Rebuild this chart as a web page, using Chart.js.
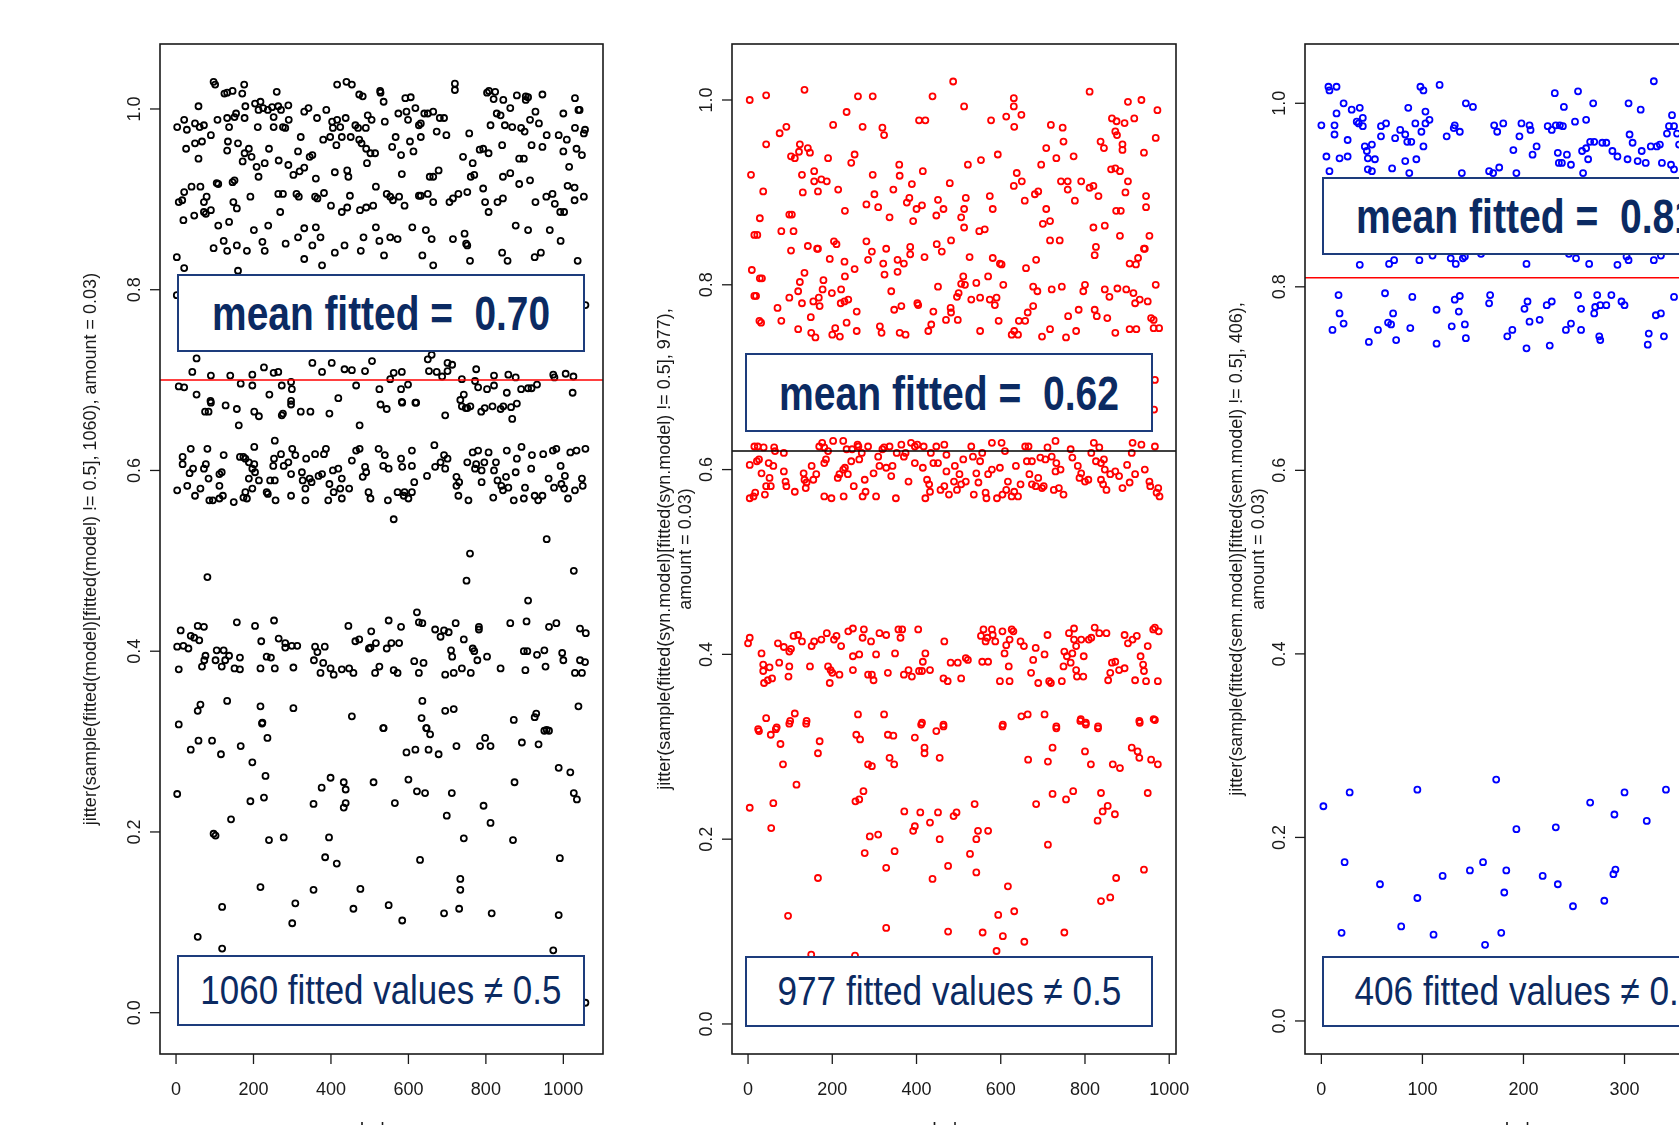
<!DOCTYPE html>
<html>
<head>
<meta charset="utf-8">
<script src="https://cdn.jsdelivr.net/npm/chart.js@4.4.1/dist/chart.umd.min.js"></script>
<style>
  html, body { margin: 0; padding: 0; overflow: hidden; background: #fff; }
  body { position: relative; width: 1679px; height: 1125px; }
  canvas { position: absolute; top: 0; }
  .note {
    position: absolute; box-sizing: border-box; background: #fff;
    border: 2px solid #1d3c7c; display: flex; align-items: center; justify-content: center;
    color: #0b2a62; font-family: "Liberation Sans Narrow", "Liberation Sans", Arial, sans-serif;
    white-space: pre; z-index: 5;
  }
  .note span { display: inline-block; transform-origin: 50% 50%; }
  .mean { font-size: 49px; font-weight: bold; }
  .count { font-size: 41px; }
</style>
</head>
<body>
<canvas id="modelChart"></canvas>
<canvas id="synChart"></canvas>
<canvas id="semChart"></canvas>

<div class="note mean" style="left:177px;top:274px;width:408px;height:78px"><span data-w="338">mean fitted =  0.70</span></div>
<div class="note count" style="left:177px;top:955px;width:408px;height:71px"><span data-w="361">1060 fitted values ≠ 0.5</span></div>
<div class="note mean" style="left:745px;top:353px;width:408px;height:79px"><span data-w="340">mean fitted =  0.62</span></div>
<div class="note count" style="left:745px;top:956px;width:408px;height:71px"><span data-w="344">977 fitted values ≠ 0.5</span></div>
<div class="note mean" style="left:1322px;top:177px;width:408px;height:78px"><span data-w="340">mean fitted =  0.81</span></div>
<div class="note count" style="left:1322px;top:956px;width:408px;height:71px"><span data-w="344">406 fitted values ≠ 0.5</span></div>

<script>
// jittered fitted values, [index, value]
const modelPts = [
  [97,1.03],[101,1.027],[125,1.017],[132,1.018],[146,1.02],[176,1.027],[171,1.017],[260,1.019],[416,1.027],[440,1.03],
  [454,1.027],[473,1.016],[482,1.014],[527,1.02],[528,1.018],[536,1.008],[592,1.012],[606,1.013],[720,1.028],[720,1.021],
  [803,1.018],[808,1.02],[824,1.019],[820,1.011],[845,1.01],[880,1.015],[903,1.014],[903,1.01],[909,1.013],[946,1.016],
  [1030,1.012],[1042,0.999],[58,1.003],[3,0.98],[21,0.988],[28,0.977],[49,0.984],[61,0.98],[72,0.982],[107,0.988],
  [132,0.99],[137,0.98],[151,0.991],[155,0.995],[177,0.99],[179,1.003],[204,1.006],[218,1.008],[213,0.999],[225,1.001],
  [237,0.999],[248,1.002],[252,0.991],[264,1.003],[271,0.999],[290,1.004],[291,0.988],[211,0.98],[252,0.98],[276,0.98],
  [282,0.979],[331,0.997],[342,1.001],[364,0.99],[388,0.999],[403,0.986],[416,0.988],[438,0.99],[424,0.98],[405,0.979],
  [463,0.982],[470,0.979],[490,0.979],[495,0.993],[505,0.988],[539,0.986],[574,0.995],[595,0.997],[599,0.988],[618,1.001],
  [627,0.982],[641,0.995],[650,0.995],[664,0.997],[681,0.99],[692,0.99],[632,0.984],[673,0.975],[698,0.971],[812,0.982],
  [828,0.995],[838,0.993],[849,0.982],[863,1.001],[868,0.98],[891,0.979],[900,0.975],[914,0.988],[928,0.997],[937,0.984],
  [1000,0.995],[1039,0.999],[1030,0.979],[1056,0.977],[1053,0.973],
  [26,0.956],[49,0.962],[67,0.964],[90,0.971],[58,0.945],[132,0.954],[134,0.964],[160,0.962],[188,0.956],[177,0.951],
  [172,0.942],[195,0.947],[208,0.936],[213,0.925],[229,0.94],[240,0.956],[265,0.943],[290,0.938],[303,0.927],[315,0.953],
  [319,0.931],[331,0.935],[345,0.947],[352,0.949],[322,0.969],[380,0.966],[398,0.969],[414,0.96],[428,0.969],[451,0.969],
  [473,0.966],[479,0.962],[491,0.956],[502,0.951],[514,0.951],[493,0.94],[558,0.958],[567,0.969],[581,0.949],[604,0.964],
  [613,0.953],[632,0.969],[741,0.947],[757,0.973],[766,0.94],[784,0.955],[793,0.956],[807,0.951],[842,0.96],[886,0.945],
  [898,0.945],[918,0.96],[946,0.958],[957,0.971],[988,0.971],[1000,0.953],[1009,0.966],[1034,0.956],[1048,0.949],[1015,0.936],
  [40,0.914],[63,0.914],[109,0.917],[105,0.918],[151,0.921],[146,0.919],[79,0.903],[72,0.897],[90,0.888],[7,0.897],
  [16,0.899],[21,0.908],[148,0.897],[157,0.89],[192,0.903],[264,0.906],[276,0.906],[269,0.886],[311,0.906],[317,0.903],
  [359,0.903],[365,0.901],[382,0.907],[361,0.923],[410,0.93],[442,0.932],[445,0.925],[400,0.893],[428,0.886],[442,0.891],
  [449,0.904],[475,0.888],[491,0.891],[509,0.893],[516,0.914],[544,0.906],[553,0.903],[560,0.899],[576,0.903],[590,0.893],
  [583,0.928],[627,0.904],[632,0.904],[650,0.906],[664,0.897],[678,0.932],[664,0.925],[655,0.925],[706,0.897],[715,0.901],
  [729,0.906],[752,0.908],[761,0.925],[770,0.927],[793,0.912],[798,0.897],[807,0.886],[830,0.897],[844,0.901],[844,0.925],
  [863,0.929],[886,0.917],[914,0.921],[928,0.897],[956,0.903],[972,0.906],[978,0.895],[992,0.886],[1011,0.915],[1029,0.913],
  [1002,0.886],[1053,0.903],[1029,0.899],
  [19,0.877],[47,0.882],[72,0.886],[77,0.884],[109,0.871],[137,0.875],[123,0.854],[97,0.846],[132,0.843],[157,0.849],
  [183,0.843],[201,0.866],[223,0.853],[238,0.871],[229,0.843],[283,0.851],[315,0.858],[331,0.868],[361,0.869],[373,0.858],
  [352,0.849],[331,0.834],[377,0.827],[410,0.841],[435,0.849],[477,0.843],[484,0.858],[516,0.869],[525,0.854],[553,0.858],
  [572,0.856],[537,0.838],[610,0.869],[645,0.866],[660,0.856],[636,0.838],[664,0.827],[715,0.856],[745,0.862],[752,0.849],
  [759,0.832],[749,0.851],[842,0.841],[856,0.832],[877,0.871],[909,0.866],[926,0.836],[942,0.841],[965,0.866],[993,0.854],
  [1037,0.832],[2,0.836],[21,0.824],[2,0.794],[160,0.821],[1057,0.783],
  [53,0.724],[42,0.709],[7,0.693],[21,0.692],[53,0.684],[90,0.705],[90,0.675],[140,0.705],[167,0.696],[197,0.706],
  [197,0.694],[227,0.714],[241,0.684],[252,0.708],[264,0.709],[273,0.694],[297,0.698],[299,0.69],[297,0.677],[352,0.719],
  [377,0.709],[402,0.719],[435,0.712],[454,0.711],[465,0.694],[488,0.71],[506,0.721],[525,0.69],[553,0.701],[562,0.708],
  [583,0.709],[583,0.676],[618,0.675],[581,0.69],[599,0.695],[419,0.68],[650,0.723],[660,0.728],[653,0.71],[673,0.709],
  [701,0.719],[713,0.717],[687,0.704],[701,0.71],[738,0.701],[743,0.684],[775,0.712],[772,0.699],[780,0.692],[803,0.69],
  [821,0.705],[821,0.694],[858,0.706],[877,0.703],[891,0.69],[909,0.691],[918,0.691],[932,0.695],[974,0.706],[977,0.703],
  [1006,0.707],[1026,0.704],[1024,0.686],[854,0.686],[845,0.671],[752,0.669],[738,0.671],
  [89,0.677],[75,0.665],[84,0.665],[128,0.672],[157,0.668],[162,0.65],[202,0.665],[214,0.66],[276,0.663],[273,0.661],
  [297,0.673],[474,0.65],[528,0.673],[544,0.668],[584,0.675],[620,0.675],[695,0.661],[734,0.678],[748,0.669],[760,0.671],
  [788,0.665],[797,0.669],[817,0.671],[838,0.668],[865,0.67],[868,0.657],[880,0.674],[322,0.665],[347,0.665],[396,0.663],
  [3,0.578],[17,0.615],[17,0.607],[29,0.583],[38,0.624],[35,0.597],[44,0.602],[49,0.572],[63,0.58],[72,0.602],
  [77,0.607],[81,0.624],[84,0.591],[86,0.567],[95,0.567],[112,0.596],[118,0.598],[112,0.583],[121,0.572],[123,0.617],
  [112,0.569],[149,0.565],[165,0.615],[174,0.615],[179,0.613],[188,0.609],[202,0.607],[202,0.626],[197,0.602],[204,0.598],
  [188,0.591],[197,0.58],[179,0.576],[174,0.57],[183,0.569],[214,0.589],[234,0.576],[237,0.574],[243,0.589],[255,0.589],
  [255,0.633],[257,0.567],[251,0.605],[253,0.613],[271,0.618],[278,0.605],[290,0.609],[297,0.572],[300,0.624],[308,0.617],
  [297,0.596],[325,0.598],[327,0.589],[336,0.613],[334,0.58],[334,0.567],[345,0.591],[350,0.587],[359,0.618],[368,0.594],
  [377,0.596],[382,0.618],[387,0.624],[393,0.567],[396,0.585],[405,0.6],[419,0.602],[407,0.576],[424,0.58],[428,0.569],
  [428,0.591],[447,0.58],[454,0.611],[465,0.622],[474,0.624],[482,0.593],[488,0.604],[491,0.598],[497,0.576],[502,0.569],
  [523,0.624],[535,0.605],[539,0.617],[547,0.567],[549,0.602],[572,0.576],[581,0.613],[584,0.604],[588,0.572],[590,0.576],
  [600,0.569],[609,0.576],[609,0.605],[609,0.622],[615,0.587],[648,0.594],[667,0.628],[669,0.604],[683,0.609],[692,0.617],
  [701,0.613],[695,0.602],[724,0.593],[724,0.583],[731,0.587],[729,0.572],[755,0.567],[752,0.609],[766,0.62],[772,0.602],
  [780,0.622],[775,0.607],[789,0.587],[789,0.6],[796,0.609],[807,0.62],[819,0.57],[821,0.6],[826,0.609],[830,0.589],
  [840,0.583],[844,0.578],[854,0.622],[852,0.593],[858,0.581],[872,0.567],[877,0.598],[880,0.613],[892,0.626],[898,0.569],
  [901,0.581],[919,0.617],[917,0.602],[926,0.572],[935,0.567],[946,0.572],[948,0.618],[962,0.591],[973,0.622],[976,0.581],
  [982,0.624],[993,0.605],[995,0.585],[1002,0.58],[1004,0.594],[1012,0.569],[1018,0.62],[1030,0.578],[1034,0.622],[1048,0.591],
  [1050,0.583],[1057,0.624],
  [562,0.546],[957,0.524],[759,0.508],[750,0.478],[1027,0.489],[81,0.482],[909,0.456],
  [7,0.38],[12,0.423],[3,0.405],[19,0.406],[32,0.403],[38,0.417],[47,0.415],[56,0.428],[60,0.412],[72,0.427],
  [67,0.383],[76,0.395],[73,0.39],[105,0.401],[102,0.39],[118,0.383],[123,0.401],[127,0.39],[137,0.395],[151,0.381],
  [165,0.38],[165,0.393],[157,0.432],[204,0.428],[220,0.411],[218,0.381],[234,0.394],[245,0.393],[255,0.381],[253,0.434],
  [265,0.414],[282,0.409],[282,0.404],[299,0.406],[303,0.382],[313,0.406],[356,0.39],[359,0.405],[365,0.399],[373,0.376],
  [380,0.387],[384,0.405],[399,0.381],[407,0.374],[428,0.38],[447,0.381],[445,0.428],[458,0.376],[463,0.411],[473,0.413],
  [498,0.403],[502,0.404],[504,0.422],[514,0.376],[516,0.409],[525,0.383],[544,0.403],[549,0.434],[556,0.409],[562,0.379],
  [572,0.376],[576,0.409],[581,0.427],[615,0.389],[622,0.443],[627,0.432],[636,0.431],[639,0.387],[627,0.376],[669,0.424],
  [683,0.416],[692,0.423],[704,0.421],[695,0.374],[710,0.401],[713,0.394],[717,0.376],[722,0.431],[738,0.381],[743,0.413],
  [761,0.376],[766,0.403],[770,0.4],[778,0.39],[782,0.427],[782,0.424],[803,0.394],[838,0.381],[863,0.431],[898,0.4],
  [907,0.4],[902,0.379],[905,0.433],[932,0.396],[951,0.401],[954,0.383],[963,0.427],[982,0.431],[997,0.398],[1000,0.39],
  [1030,0.376],[1048,0.376],[1043,0.39],[1056,0.388],[1043,0.425],[1058,0.42],
  [7,0.319],[56,0.334],[63,0.341],[132,0.345],[218,0.339],[223,0.321],[303,0.337],[454,0.328],[535,0.315],[636,0.345],
  [634,0.326],[646,0.315],[695,0.334],[717,0.336],[872,0.324],[930,0.331],[926,0.327],[957,0.313],[1039,0.339],
  [3,0.242],[38,0.291],[58,0.301],[93,0.301],[116,0.286],[167,0.295],[197,0.277],[222,0.32],[236,0.304],[231,0.262],
  [227,0.238],[192,0.234],[142,0.214],[97,0.198],[102,0.196],[240,0.191],[278,0.194],[218,0.139],[119,0.117],[56,0.084],
  [119,0.071],[300,0.099],[308,0.121],[355,0.231],[355,0.136],[376,0.249],[399,0.26],[395,0.194],[385,0.172],[415,0.165],
  [433,0.255],[438,0.247],[438,0.232],[433,0.227],[458,0.115],[476,0.137],[510,0.255],[536,0.315],[549,0.119],[565,0.232],
  [584,0.102],[595,0.288],[600,0.258],[618,0.291],[622,0.245],[630,0.169],[643,0.243],[647,0.315],[656,0.308],[652,0.291],
  [678,0.286],[692,0.11],[699,0.218],[712,0.243],[724,0.295],[731,0.115],[734,0.148],[734,0.136],[743,0.193],[785,0.295],
  [798,0.304],[812,0.295],[794,0.229],[812,0.21],[815,0.11],[870,0.191],[874,0.255],[893,0.299],[936,0.297],[951,0.312],
  [963,0.312],[988,0.271],[1018,0.266],[1027,0.243],[1035,0.236],[991,0.171],[988,0.108],[974,0.069],[1057,0.011]
];

const synPts = [
  [4,1.0],[43,1.005],[134,1.011],[261,1.004],[296,1.004],[438,1.004],[487,1.02],[513,0.993],[631,1.002],[631,0.993],
  [811,1.009],[902,0.998],[934,1.0],[972,0.989],[234,0.987],[202,0.973],[272,0.971],[319,0.97],[323,0.962],[406,0.978],
  [421,0.978],[577,0.978],[613,0.982],[649,0.984],[632,0.971],[719,0.973],[747,0.97],[864,0.98],[875,0.977],[894,0.975],
  [917,0.98],[872,0.966],[876,0.962],[968,0.959],[75,0.964],[91,0.971],[43,0.952],[7,0.919],[36,0.901],[28,0.872],
  [15,0.854],[22,0.854],[9,0.816],[33,0.807],[15,0.788],[19,0.788],[27,0.761],[31,0.759],[79,0.761],
  [102,0.939],[111,0.937],[123,0.952],[121,0.944],[142,0.948],[147,0.943],[128,0.919],[130,0.9],[157,0.923],[157,0.912],
  [166,0.901],[174,0.914],[187,0.912],[190,0.937],[214,0.903],[230,0.88],[245,0.932],[253,0.941],[296,0.919],[300,0.898],
  [281,0.887],[309,0.884],[336,0.873],[345,0.903],[359,0.93],[360,0.918],[389,0.909],[415,0.923],[377,0.889],[383,0.894],
  [400,0.882],[413,0.886],[392,0.869],[451,0.892],[447,0.875],[464,0.882],[479,0.91],[517,0.894],[513,0.882],[506,0.873],
  [513,0.862],[522,0.93],[553,0.935],[593,0.941],[574,0.896],[581,0.882],[549,0.858],[562,0.86],
  [631,0.907],[638,0.921],[650,0.912],[657,0.891],[681,0.898],[689,0.901],[696,0.93],[708,0.948],[708,0.882],[717,0.869],
  [700,0.866],[732,0.937],[743,0.912],[759,0.912],[759,0.903],[749,0.955],[773,0.939],[776,0.891],[791,0.912],[811,0.905],
  [820,0.907],[832,0.896],[837,0.955],[845,0.948],[820,0.862],[847,0.864],[862,0.925],[872,0.926],[883,0.923],[902,0.912],
  [896,0.9],[874,0.88],[885,0.88],[883,0.853],[940,0.943],[945,0.896],[945,0.884],[953,0.853],[940,0.839],[889,0.952],
  [889,0.946],
  [79,0.858],[102,0.837],[108,0.858],[98,0.876],[104,0.876],[142,0.842],[164,0.839],[166,0.839],[194,0.828],[204,0.847],
  [210,0.844],[229,0.825],[253,0.817],[281,0.847],[294,0.836],[285,0.827],[328,0.839],[321,0.823],[324,0.811],[355,0.827],
  [370,0.823],[355,0.814],[385,0.841],[385,0.833],[419,0.83],[448,0.844],[460,0.836],[482,0.848],[526,0.83],[581,0.829],
  [598,0.823],[602,0.822],[660,0.818],[684,0.827],[717,0.848],[740,0.848],[823,0.832],[826,0.841],[906,0.823],[921,0.822],
  [926,0.829],[942,0.839],
  [28,0.807],[70,0.775],[98,0.786],[119,0.793],[123,0.803],[128,0.78],[134,0.813],[149,0.765],[155,0.782],[168,0.786],
  [170,0.777],[177,0.795],[179,0.805],[199,0.791],[221,0.795],[220,0.78],[229,0.782],[238,0.784],[230,0.809],[258,0.771],
  [234,0.759],[119,0.752],[150,0.748],[160,0.743],[200,0.746],[207,0.753],[218,0.744],[258,0.75],[313,0.755],[317,0.748],
  [340,0.793],[347,0.773],[364,0.777],[360,0.748],[374,0.746],[402,0.78],[404,0.778],[428,0.75],[435,0.757],[440,0.771],
  [451,0.798],[470,0.762],[481,0.775],[482,0.77],[498,0.762],[496,0.787],[500,0.791],[506,0.801],[511,0.809],[515,0.8],
  [530,0.784],[542,0.802],[551,0.786],[551,0.75],[570,0.809],[574,0.784],[586,0.778],[590,0.786],[595,0.761],[606,0.8],
  [626,0.746],[632,0.75],[641,0.746],[643,0.761],[658,0.761],[664,0.77],[677,0.777],[677,0.798],[687,0.793],[698,0.744],
  [717,0.752],[721,0.795],[745,0.798],[755,0.743],[760,0.766],[779,0.75],[785,0.773],[796,0.793],[800,0.8],[823,0.773],
  [828,0.766],[847,0.795],[858,0.787],[853,0.764],[872,0.748],[877,0.796],[898,0.795],[906,0.752],[915,0.791],[919,0.78],
  [922,0.752],[930,0.784],[949,0.782],[957,0.764],[963,0.762],[963,0.753],[976,0.753],[968,0.8],[966,0.697],[964,0.665],
  [4,0.605],[4,0.569],[13,0.571],[17,0.575],[15,0.625],[23,0.625],[21,0.609],[26,0.611],[32,0.596],[37,0.624],
  [40,0.573],[43,0.582],[49,0.607],[51,0.591],[54,0.582],[60,0.604],[62,0.624],[64,0.62],[85,0.618],[85,0.598],
  [89,0.587],[91,0.582],[111,0.576],[132,0.596],[134,0.589],[139,0.586],[137,0.58],[151,0.604],[155,0.589],[162,0.595],
  [169,0.625],[176,0.629],[181,0.624],[181,0.607],[185,0.611],[190,0.62],[181,0.571],[198,0.569],[202,0.631],[213,0.591],
  [217,0.595],[226,0.6],[230,0.602],[237,0.595],[227,0.571],[226,0.631],[234,0.622],[245,0.609],[247,0.622],[251,0.582],
  [260,0.627],[262,0.625],[264,0.611],[270,0.618],[277,0.589],[279,0.576],[272,0.571],[285,0.625],[298,0.596],[304,0.571],
  [309,0.614],[312,0.604],[319,0.622],[323,0.624],[328,0.602],[336,0.625],[343,0.604],[340,0.593],[353,0.618],[351,0.569],
  [364,0.627],[370,0.614],[374,0.618],[381,0.587],[387,0.629],[396,0.625],[402,0.627],[396,0.607],[417,0.625],[415,0.602],
  [421,0.569],[425,0.589],[430,0.584],[432,0.576],[434,0.618],[440,0.607],[447,0.625],[451,0.607],[457,0.578],[466,0.627],
  [471,0.598],[471,0.616],[466,0.582],[477,0.573],[489,0.587],[491,0.604],[496,0.578],[502,0.595],[506,0.584],[511,0.611],
  [517,0.587],[530,0.625],[534,0.614],[536,0.573],[542,0.596],[547,0.586],[551,0.609],[556,0.618],[564,0.575],[566,0.569],
  [570,0.595],[579,0.629],[579,0.6],[591,0.569],[598,0.602],[602,0.629],[604,0.573],[610,0.62],[613,0.578],[617,0.587],
  [626,0.571],[632,0.576],[636,0.604],[641,0.571],[647,0.584],[658,0.625],[662,0.609],[666,0.625],[668,0.595],[674,0.609],
  [674,0.584],[683,0.582],[689,0.591],[694,0.613],[698,0.58],[702,0.582],[706,0.611],[711,0.624],[721,0.614],[726,0.578],
  [730,0.631],[732,0.607],[730,0.598],[738,0.58],[742,0.6],[749,0.573],[766,0.622],[770,0.613],[783,0.604],[787,0.591],
  [791,0.596],[800,0.587],[808,0.589],[815,0.618],[821,0.629],[826,0.609],[834,0.624],[838,0.607],[845,0.611],[838,0.589],
  [851,0.578],[843,0.584],[847,0.6],[860,0.595],[872,0.598],[881,0.593],[889,0.58],[900,0.605],[906,0.586],[911,0.618],
  [913,0.629],[919,0.595],[934,0.627],[942,0.6],[953,0.587],[955,0.582],[966,0.625],[970,0.575],[974,0.58],[977,0.571],
  [0,0.412],[4,0.418],[32,0.401],[36,0.389],[36,0.382],[38,0.369],[47,0.372],[57,0.374],[51,0.386],[71,0.412],
  [74,0.391],[85,0.408],[98,0.403],[98,0.387],[96,0.376],[102,0.406],[108,0.42],[119,0.421],[128,0.414],[147,0.387],
  [151,0.409],[157,0.414],[174,0.416],[187,0.423],[190,0.387],[194,0.369],[196,0.383],[200,0.38],[204,0.416],[210,0.42],
  [217,0.378],[221,0.409],[238,0.425],[249,0.428],[249,0.398],[249,0.383],[264,0.4],[275,0.427],[272,0.418],[285,0.378],
  [294,0.378],[298,0.372],[292,0.414],[304,0.4],[312,0.423],[328,0.421],[332,0.38],[349,0.401],[357,0.427],[362,0.418],
  [366,0.427],[370,0.378],[381,0.383],[389,0.376],[404,0.427],[406,0.382],[413,0.382],[415,0.392],[421,0.401],[432,0.383],
  [466,0.414],[464,0.374],[474,0.371],[481,0.391],[498,0.391],[506,0.374],[517,0.396],[522,0.394],[556,0.392],[570,0.392],
  [553,0.42],[559,0.427],[564,0.414],[568,0.418],[579,0.427],[581,0.421],[587,0.414],[598,0.371],[604,0.425],[609,0.401],
  [613,0.41],[619,0.387],[621,0.416],[621,0.371],[626,0.427],[630,0.425],[647,0.414],[655,0.409],[672,0.38],[677,0.394],
  [683,0.407],[689,0.369],[704,0.4],[711,0.421],[715,0.371],[719,0.369],[745,0.371],[749,0.387],[751,0.403],[757,0.398],
  [762,0.423],[766,0.391],[770,0.401],[774,0.428],[774,0.416],[779,0.383],[781,0.376],[779,0.409],[791,0.416],[796,0.376],
  [797,0.398],[809,0.416],[815,0.418],[823,0.429],[834,0.423],[851,0.423],[855,0.372],[860,0.38],[864,0.391],[872,0.392],
  [881,0.383],[894,0.385],[894,0.421],[902,0.412],[913,0.416],[923,0.42],[919,0.372],[932,0.398],[938,0.389],[940,0.382],
  [945,0.371],[949,0.409],[962,0.427],[966,0.429],[975,0.425],[973,0.371],
  [43,0.331],[66,0.319],[98,0.325],[111,0.336],[138,0.325],[261,0.335],[323,0.335],[411,0.324],[464,0.322],[604,0.322],
  [649,0.333],[664,0.335],[704,0.335],[732,0.32],[789,0.328],[802,0.324],[831,0.32],[930,0.326],[966,0.329],[26,0.317],
  [24,0.319],[54,0.313],[68,0.321],[100,0.328],[139,0.328],[77,0.303],[83,0.281],[115,0.259],[4,0.234],[60,0.239],
  [55,0.212],[166,0.293],[170,0.306],[166,0.158],[95,0.117],[150,0.075],[257,0.313],[266,0.308],[255,0.241],[264,0.243],
  [274,0.252],[285,0.281],[294,0.279],[289,0.203],[309,0.205],[277,0.185],[254,0.074],[328,0.169],[328,0.104],[332,0.313],
  [345,0.312],[336,0.288],[347,0.281],[348,0.187],[371,0.23],[396,0.31],[392,0.209],[396,0.214],[409,0.229],[413,0.326],
  [419,0.299],[419,0.293],[432,0.218],[438,0.157],[447,0.317],[455,0.288],[451,0.229],[455,0.2],[464,0.324],[475,0.171],
  [475,0.1],[488,0.225],[495,0.229],[527,0.184],[538,0.238],[542,0.2],[546,0.209],[542,0.164],[557,0.099],[570,0.209],
  [590,0.079],[594,0.118],[605,0.324],[605,0.095],[617,0.149],[632,0.122],[656,0.089],[665,0.286],[684,0.238],[712,0.284],
  [712,0.194],[723,0.299],[723,0.249],[732,0.322],[751,0.099],[755,0.243],[772,0.252],[790,0.33],[800,0.295],[802,0.326],
  [814,0.281],[831,0.322],[838,0.25],[842,0.23],[830,0.22],[854,0.236],[838,0.133],[860,0.137],[866,0.281],[871,0.227],
  [874,0.158],[883,0.277],[911,0.299],[925,0.295],[929,0.288],[929,0.328],[940,0.167],[949,0.25],[957,0.286],[963,0.33],
  [973,0.281]
];

const semPts = [
  [7,1.018],[8,1.014],[15,1.018],[0,0.976],[5,0.942],[8,0.926],[15,0.989],[13,0.976],[13,0.966],[22,1.0],
  [18,0.94],[26,0.96],[26,0.942],[30,0.993],[35,0.98],[37,0.978],[38,0.995],[41,0.984],[41,0.975],[43,0.953],
  [45,0.948],[46,0.94],[46,0.928],[50,0.926],[50,0.955],[53,0.939],[59,0.975],[59,0.964],[64,0.978],[70,0.929],
  [73,0.962],[78,0.971],[83,0.966],[83,0.937],[85,0.958],[86,0.995],[89,0.958],[87,0.924],[93,0.978],[94,0.939],
  [98,1.018],[101,1.014],[99,0.969],[101,0.953],[103,0.991],[107,0.982],[103,0.978],[117,1.02],[124,0.964],[131,0.973],
  [132,0.976],[137,0.969],[139,0.924],[143,1.0],[150,0.996],[166,0.926],[170,0.924],[171,0.976],[174,0.969],[176,0.93],
  [180,0.978],[190,0.949],[193,0.924],[196,0.964],[198,0.978],[206,0.976],[207,0.971],[209,0.944],[213,0.953],[224,0.975],
  [228,0.971],[231,1.011],[232,0.976],[234,0.946],[235,0.935],[236,0.976],[238,0.935],[239,0.975],[240,0.996],[243,0.944],
  [247,0.933],[251,0.98],[254,1.013],[258,0.948],[259,0.924],[262,0.951],[262,0.982],[264,0.939],[266,0.958],[269,1.0],
  [270,0.958],[278,0.957],[282,0.957],[288,0.948],[293,0.942],[303,0.939],[304,1.0],[305,0.966],[308,0.957],[313,0.937],
  [316,0.993],[317,0.948],[321,0.935],[326,0.953],[329,1.024],[332,0.953],[335,0.955],[337,0.935],[342,0.967],[344,0.975],
  [347,0.987],[346,0.933],[349,0.975],[352,0.967],[349,0.928],[354,0.955],
  [38,0.824],[67,0.825],[72,0.829],[97,0.829],[110,0.834],[128,0.831],[133,0.825],[140,0.831],[142,0.833],[158,0.836],
  [203,0.825],[245,0.836],[252,0.831],[265,0.825],[293,0.824],[302,0.833],[304,0.829],[329,0.829],[336,0.834],
  [17,0.791],[18,0.771],[22,0.76],[11,0.753],[47,0.74],[56,0.753],[63,0.793],[66,0.761],[69,0.759],[71,0.771],
  [74,0.742],[88,0.755],[90,0.789],[114,0.775],[114,0.738],[129,0.757],[132,0.786],[137,0.79],[136,0.773],[142,0.759],
  [143,0.744],[166,0.782],[167,0.791],[184,0.746],[189,0.753],[201,0.776],[204,0.784],[203,0.733],[206,0.762],[216,0.764],
  [223,0.78],[228,0.784],[226,0.736],[242,0.753],[247,0.76],[254,0.791],[257,0.776],[257,0.753],[270,0.771],[271,0.778],
  [273,0.791],[276,0.78],[275,0.746],[276,0.742],[282,0.78],[287,0.791],[297,0.784],[300,0.78],[324,0.749],[323,0.737],
  [331,0.769],[336,0.771],[339,0.746],[349,0.789],
  [2,0.234],[28,0.249],[23,0.173],[20,0.096],[58,0.149],[79,0.103],[95,0.252],[95,0.134],[111,0.094],[120,0.158],
  [147,0.164],[160,0.173],[162,0.083],[173,0.263],[178,0.096],[181,0.14],[183,0.164],[193,0.209],[219,0.158],[232,0.211],
  [234,0.149],[249,0.125],[266,0.238],[280,0.131],[289,0.16],[291,0.165],[290,0.225],[300,0.249],[322,0.218],[341,0.252]
];

const xTicksModel = [0, 200, 400, 600, 800, 1000];
const xTicksSyn = [0, 200, 400, 600, 800, 1000];
const xTicksSem = [0, 100, 200, 300, 400];
const yTicks = [0.0, 0.2, 0.4, 0.6, 0.8, 1.0];
const meanFitted = [0.70, 0.62, 0.81];

// R-style box, ticks and labels, drawn off the chart's own scales
const rAxes = {
  id: "rAxes",
  afterDraw(chart, args, o) {
    const { ctx, chartArea: a } = chart;
    const x = chart.scales.x, y = chart.scales.y;
    ctx.save();
    ctx.strokeStyle = "#1a1a1a";
    ctx.lineWidth = 1.6;
    ctx.strokeRect(a.left, a.top, a.right - a.left, a.bottom - a.top);
    ctx.lineWidth = 1.3;
    ctx.fillStyle = "#1a1a1a";
    ctx.font = '18px "Liberation Sans", Arial, sans-serif';
    ctx.textAlign = "center";
    ctx.textBaseline = "middle";
    o.xTicks.forEach((v) => {
      const px = x.getPixelForValue(v);
      ctx.beginPath(); ctx.moveTo(px, a.bottom); ctx.lineTo(px, a.bottom + 10); ctx.stroke();
      ctx.fillText(String(v), px, a.bottom + 36);
    });
    o.yTicks.forEach((v) => {
      const py = y.getPixelForValue(v);
      ctx.beginPath(); ctx.moveTo(a.left - 10, py); ctx.lineTo(a.left, py); ctx.stroke();
      ctx.save();
      ctx.translate(a.left - 25, py);
      ctx.rotate(-Math.PI / 2);
      ctx.fillText(v.toFixed(1), 0, 0);
      ctx.restore();
    });
    const cy = (a.top + a.bottom) / 2;
    o.yTitle.forEach((t, i) => {
      ctx.save();
      ctx.translate(a.left - o.yTitleOffset[i], cy);
      ctx.rotate(-Math.PI / 2);
      ctx.fillText(t, 0, 0);
      ctx.restore();
    });
    ctx.textBaseline = "alphabetic";
    ctx.fillText("Index", (a.left + a.right) / 2, a.bottom + 81);
    ctx.restore();
  },
};

const makePanel = (id, p) => {
  const canvas = document.getElementById(id);
  const w = p.boxRight - p.boxLeft + 170;
  canvas.width = w; canvas.height = 1125;
  canvas.style.width = w + "px"; canvas.style.height = "1125px";
  canvas.style.left = (p.boxLeft - 130) + "px";

  return new Chart(canvas.getContext("2d"), {
    type: "scatter",
    data: {
      datasets: [
        {
          type: "line",
          data: [{ x: p.xMin, y: p.mean }, { x: p.xMax, y: p.mean }],
          borderColor: p.lineColor,
          borderWidth: 1.5,
          pointRadius: 0,
          clip: false,
        },
        {
          data: p.points.map(([i, v]) => ({ x: i, y: v })),
          pointStyle: "circle",
          pointRadius: 3,
          borderWidth: 1.8,
          borderColor: p.color,
          backgroundColor: "rgba(0,0,0,0)",
          clip: false,
        },
      ],
    },
    options: {
      responsive: false,
      animation: false,
      devicePixelRatio: 1,
      events: [],
      layout: { padding: { left: 130, right: 40, top: 44, bottom: 71 } },
      scales: {
        x: { type: "linear", display: false, min: p.xMin, max: p.xMax },
        y: { type: "linear", display: false, min: p.yMin, max: p.yMax },
      },
      plugins: {
        legend: { display: false },
        tooltip: { enabled: false },
        rAxes: { xTicks: p.xTicks, yTicks: yTicks, yTitle: p.yTitle, yTitleOffset: p.yTitleOffset },
      },
    },
    plugins: [rAxes],
  });
};

makePanel("modelChart", {
  boxLeft: 160, boxRight: 603, xMin: -41.4, xMax: 1102.4, yMin: -0.0457, yMax: 1.0719,
  points: modelPts, color: "#000000", mean: meanFitted[0], lineColor: "#ff0000", xTicks: xTicksModel,
  yTitle: ["jitter(sample(fitted(model)[fitted(model) != 0.5], 1060), amount = 0.03)"], yTitleOffset: [69],
});

makePanel("synChart", {
  boxLeft: 732, boxRight: 1176, xMin: -38.1, xMax: 1016.1, yMin: -0.0325, yMax: 1.0606,
  points: synPts, color: "#ff0000", mean: meanFitted[1], lineColor: "#000000", xTicks: xTicksSyn,
  yTitle: ["jitter(sample(fitted(syn.model)[fitted(syn.model) != 0.5], 977),", "amount = 0.03)"], yTitleOffset: [67, 46],
});

makePanel("semChart", {
  boxLeft: 1305, boxRight: 1748, xMin: -16.2, xMax: 422.2, yMin: -0.036, yMax: 1.0646,
  points: semPts, color: "#0000ff", mean: meanFitted[2], lineColor: "#ff0000", xTicks: xTicksSem,
  yTitle: ["jitter(sample(fitted(sem.model)[fitted(sem.model) != 0.5], 406),", "amount = 0.03)"], yTitleOffset: [67.5, 46],
});

// squeeze the note text to the narrow width used in the figure
document.querySelectorAll(".note span").forEach((s) => {
  const w = s.getBoundingClientRect().width;
  s.style.transform = "scaleX(" + (s.dataset.w / w) + ")";
});
</script>
</body>
</html>
